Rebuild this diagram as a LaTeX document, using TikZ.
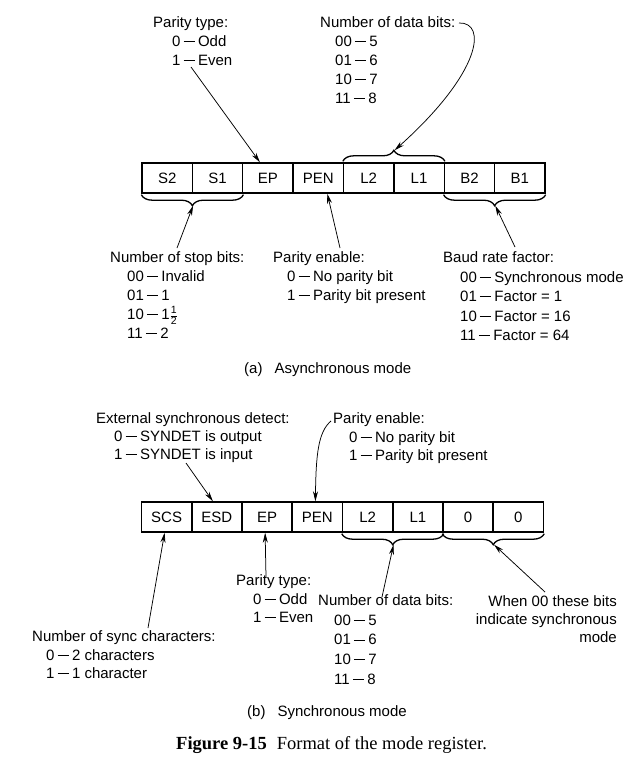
\documentclass[tikz,border=0pt]{standalone}
\usepackage{amsmath}
\usepackage{fontspec}
\setmainfont{Liberation Sans}
\newfontfamily\capfont{Liberation Serif}
\usetikzlibrary{arrows.meta,decorations.pathreplacing,calc}
\newcommand\dd{\kern3pt\rule[4.3pt]{11.5pt}{0.95pt}\kern3pt}
\newcommand\halfx{$\frac{\text{1}}{\text{2}}$}
\begin{document}
\begin{tikzpicture}[x=1pt,y=-1pt,
 lbl/.style={font=\fontsize{15}{19}\selectfont, inner sep=0pt, align=left, anchor=north west},
 cell/.style={draw, line width=1.4pt, minimum width=50.375pt, minimum height=30pt, inner sep=0pt, font=\fontsize{15}{17}\selectfont},
 arr/.style={line width=0.75pt, -{Stealth[length=10pt,width=5pt]}},
 brc/.style={decorate, decoration={brace, amplitude=11pt}, line width=1.3pt},
]
\useasboundingbox (0,0) rectangle (644,784);
\fill[white] (0,0) rectangle (644,784);

% ---------- (a) register ----------
\foreach \t [count=\i] in {S2,S1,EP,PEN,L2,L1,B2,B1}
  \node[cell] (a\i) at ({142+50.375*(\i-0.5)},178) {\t};

\draw[brc] ([yshift=1pt]a5.north west) -- ([yshift=1pt]a6.north east);
\draw[brc] ([yshift=-1pt]a2.south east) -- ([yshift=-1pt]a1.south west);
\draw[brc] ([yshift=-1pt]a8.south east) -- ([yshift=-1pt]a7.south west);
\coordinate (tA) at ($(a5.north east)+(0,-12)$);
\coordinate (sA) at ($(a1.south east)+(0,12)$);
\coordinate (sB) at ($(a7.south east)+(0,12)$);

\node[lbl] (pta) at (153,16.5) {Parity type:\\\hspace*{19pt}0\dd Odd\\\hspace*{19pt}1\dd Even};
\node[lbl] (dba) at (320,16.5) {Number of data bits:\\\hspace*{15pt}00\dd 5\\\hspace*{15pt}01\dd 6\\\hspace*{15pt}10\dd 7\\\hspace*{15pt}11\dd 8};
\node[lbl] (sta) at (110,251.5) {Number of stop bits:\\\hspace*{17pt}00\dd Invalid\\\hspace*{17pt}01\dd 1\\\hspace*{17pt}10\dd 1\halfx\\\hspace*{17pt}11\dd 2};
\node[lbl] (pea) at (273,251.5) {Parity enable:\\\hspace*{14pt}0\dd No parity bit\\\hspace*{14pt}1\dd Parity bit present};
\node[lbl, font=\fontsize{15}{19.5}\selectfont] (bda) at (443,251.5) {Baud rate factor:\\\hspace*{17pt}00\dd Synchronous mode\\\hspace*{17pt}01\dd Factor = 1\\\hspace*{17pt}10\dd Factor = 16\\\hspace*{17pt}11\dd Factor = 64};
\node[lbl] (capa) at (244,362.5) {(a)\hspace{12pt}Asynchronous mode};

\coordinate (pta0) at (191,67);
\coordinate (dba0) at (459,23);
\coordinate (sta0) at (177,248);
\coordinate (pea0) at (340,248);
\coordinate (bda0) at (515,247);
\draw[arr] (pta0) -- ([xshift=-8pt]a3.north);
\draw[arr] (dba0) .. controls (487,22) and (482,72) .. (tA);
\draw[arr] (sta0) -- (sA);
\draw[arr] (pea0) -- ([xshift=9pt]a4.south);
\draw[arr] (bda0) -- (sB);

% ---------- (b) register ----------
\foreach \t [count=\i] in {SCS,ESD,EP,PEN,L2,L1,0,0}
  \node[cell] (b\i) at ({141.5+50.25*(\i-0.5)},517) {\t};

\draw[brc] ([yshift=-1pt]b6.south east) -- ([yshift=-1pt]b5.south west);
\draw[brc] ([yshift=-1pt]b8.south east) -- ([yshift=-1pt]b7.south west);
\coordinate (sC) at ($(b5.south east)+(0,12)$);
\coordinate (sD) at ($(b7.south east)+(0,12)$);

\node[lbl, font=\fontsize{15}{18}\selectfont] (esd) at (96,412.5) {External synchronous detect:\\\hspace*{18pt}0\dd SYNDET is output\\\hspace*{18pt}1\dd SYNDET is input};
\node[lbl, font=\fontsize{15}{18.5}\selectfont] (peb) at (333,412.5) {Parity enable:\\\hspace*{16pt}0\dd No parity bit\\\hspace*{16pt}1\dd Parity bit present};
\node[lbl, font=\fontsize{15}{18.5}\selectfont] (ptb) at (236,574.5) {Parity type:\\\hspace*{17pt}0\dd Odd\\\hspace*{17pt}1\dd Even};
\node[lbl, font=\fontsize{15}{19.7}\selectfont] (dbb) at (318,594.5) {Number of data bits:\\\hspace*{16pt}00\dd 5\\\hspace*{16pt}01\dd 6\\\hspace*{16pt}10\dd 7\\\hspace*{16pt}11\dd 8};
\node[lbl, font=\fontsize{15}{18}\selectfont, align=right, anchor=north east] (wh) at (617,595.5) {When 00 these bits\\indicate synchronous\\mode};
\node[lbl, font=\fontsize{15}{18.5}\selectfont] (syn) at (32,630.5) {Number of sync characters:\\\hspace*{14pt}0\dd 2 characters\\\hspace*{14pt}1\dd 1 character};
\node[lbl] (capb) at (247,705.5) {(b)\hspace{12pt}Synchronous mode};

\coordinate (esd0) at (186,463);
\coordinate (peb0) at (331,421);
\coordinate (syn0) at (148,628);
\coordinate (ptb0) at (266,577);
\coordinate (dbb0) at (382,597);
\coordinate (wh0) at (545,592);
\draw[arr] (esd0) -- ([xshift=-4pt]b2.north);
\draw[arr] (peb0) .. controls (318,432) and (316,455) .. ([xshift=-2pt]b4.north);
\draw[arr] (syn0) -- ([xshift=-2pt]b1.south);
\draw[arr] (ptb0) -- ([xshift=-2pt]b3.south);
\draw[arr] (dbb0) -- (sC);
\draw[arr] (wh0) -- (sD);

% ---------- caption ----------
\node[inner sep=0pt, anchor=west, font=\capfont\fontsize{18.5}{20}\selectfont] (cap) at (176,745) {\textbf{Figure 9-15}\hspace{10pt}Format of the mode register.};
\end{tikzpicture}
\end{document}
